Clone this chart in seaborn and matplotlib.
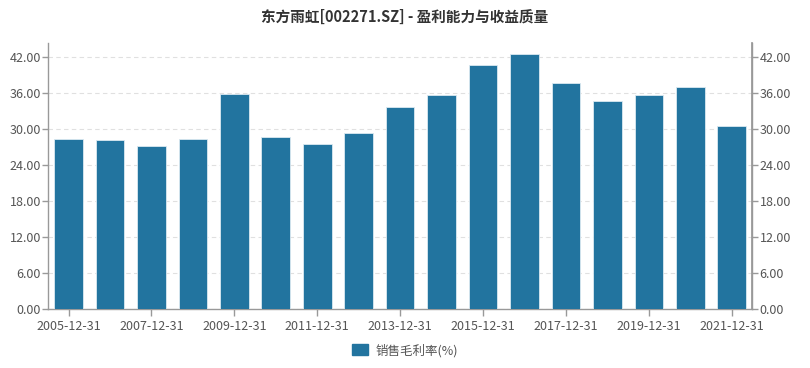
import matplotlib
matplotlib.use("Agg")
import matplotlib.pyplot as plt
import seaborn as sns
import pandas as pd
from matplotlib.ticker import FormatStrFormatter, MultipleLocator
from matplotlib.patches import Patch

dates = ["2005-12-31", "2006-12-31", "2007-12-31", "2008-12-31", "2009-12-31",
         "2010-12-31", "2011-12-31", "2012-12-31", "2013-12-31", "2014-12-31",
         "2015-12-31", "2016-12-31", "2017-12-31", "2018-12-31", "2019-12-31",
         "2020-12-31", "2021-12-31"]
gross_margin = [28.45, 28.2, 27.2, 28.45, 35.9, 28.8, 27.6, 29.4, 33.8, 35.7,
                40.7, 42.6, 37.8, 34.7, 35.8, 37.05, 30.5]
series_name = "销售毛利率(%)"
title = "东方雨虹[002271.SZ] - 盈利能力与收益质量"

sns.set_theme(style="white")
plt.rcParams['font.family'] = ['Noto Sans CJK SC', 'DejaVu Sans']

bar_color = "#22749f"
axis_color = "#999999"
text_color = "#555555"

df = pd.DataFrame({"date": dates, "value": gross_margin})

fig = plt.figure(figsize=(8.1, 3.68), dpi=100)
ax = fig.add_axes([0.059, 0.160, 0.870, 0.723])
sns.barplot(data=df, x="date", y="value", color=bar_color, saturation=1,
            width=0.69, edgecolor="#dbe9f1", linewidth=0.6, ax=ax, zorder=3)

ymax = 44.4
ax.set_ylim(0, ymax)
ax.set_xlim(-0.5, len(dates) - 0.5)
ax.yaxis.set_major_locator(MultipleLocator(6))
ax.yaxis.set_major_formatter(FormatStrFormatter("%.2f"))
ax.grid(axis="y", color="#e0e0e0", linestyle=(0, (4, 3)), linewidth=0.8, zorder=0)
ax.set_axisbelow(True)

pos = list(range(0, len(dates), 2))
ax.set_xticks(pos)
ax.set_xticklabels([dates[i] for i in pos])
ax.set_xlabel("")
ax.set_ylabel("")

ax.spines["top"].set_visible(False)
for s in ["left", "bottom", "right"]:
    ax.spines[s].set_color(axis_color)
    ax.spines[s].set_linewidth(1.0)

ax.tick_params(axis="x", colors=axis_color, labelcolor=text_color, labelsize=9,
               length=5, width=1, direction="out", bottom=True, pad=3)
ax.tick_params(axis="y", colors=axis_color, labelcolor=text_color, labelsize=9,
               length=4, width=1, direction="out", left=True, pad=1)

ax2 = ax.twinx()
ax2.set_ylim(0, ymax)
ax2.yaxis.set_major_locator(MultipleLocator(6))
ax2.yaxis.set_major_formatter(FormatStrFormatter("%.2f"))
ax2.spines["top"].set_visible(False)
ax2.spines["left"].set_visible(False)
ax2.spines["bottom"].set_visible(False)
ax2.spines["right"].set_color(axis_color)
ax2.tick_params(axis="y", colors=axis_color, labelcolor=text_color, labelsize=9,
                length=4, width=1, direction="out", right=True, pad=1)
ax2.grid(False)

fig.text(0.5, 0.955, title, ha="center", va="center", fontsize=10.5,
         fontweight="bold", color="#333333")

handle = Patch(facecolor=bar_color, edgecolor=bar_color)
fig.legend([handle], [series_name], loc="center", bbox_to_anchor=(0.5, 0.048),
           frameon=False, fontsize=9, handlelength=1.3, handleheight=1.0,
           handletextpad=0.6, labelcolor=text_color)

fig.savefig("out.png", dpi=100)
